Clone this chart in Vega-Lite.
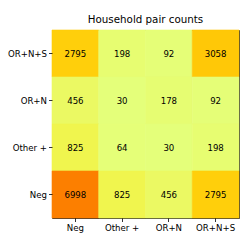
{
  "$schema": "https://vega.github.io/schema/vega-lite/v6.json",
  "autosize": "none",
  "width": 187,
  "height": 188,
  "padding": {"left": 52, "top": 30, "right": 10, "bottom": 31},
  "background": "white",
  "config": {
    "view": {"stroke": "#333333", "strokeWidth": 1},
    "font": "DejaVu Sans",
    "axis": {
      "domain": false,
      "grid": false,
      "ticks": true,
      "tickColor": "#000000",
      "tickSize": 3.5,
      "tickWidth": 0.8,
      "labelFont": "DejaVu Sans",
      "labelFontSize": 8.6,
      "labelColor": "#000000",
      "labelPadding": 2,
      "title": null
    }
  },
  "title": {
    "text": "Household pair counts",
    "font": "DejaVu Sans",
    "fontSize": 10.3,
    "fontWeight": "normal",
    "color": "#000000",
    "offset": 4
  },
  "data": {
    "values": [
      {"row": "OR+N+S", "col": "Neg", "count": 2795},
      {"row": "OR+N+S", "col": "Other +", "count": 198},
      {"row": "OR+N+S", "col": "OR+N", "count": 92},
      {"row": "OR+N+S", "col": "OR+N+S", "count": 3058},
      {"row": "OR+N", "col": "Neg", "count": 456},
      {"row": "OR+N", "col": "Other +", "count": 30},
      {"row": "OR+N", "col": "OR+N", "count": 178},
      {"row": "OR+N", "col": "OR+N+S", "count": 92},
      {"row": "Other +", "col": "Neg", "count": 825},
      {"row": "Other +", "col": "Other +", "count": 64},
      {"row": "Other +", "col": "OR+N", "count": 30},
      {"row": "Other +", "col": "OR+N+S", "count": 198},
      {"row": "Neg", "col": "Neg", "count": 6998},
      {"row": "Neg", "col": "Other +", "count": 825},
      {"row": "Neg", "col": "OR+N", "count": 456},
      {"row": "Neg", "col": "OR+N+S", "count": 2795}
    ]
  },
  "encoding": {
    "x": {"field": "col", "type": "nominal", "sort": ["Neg", "Other +", "OR+N", "OR+N+S"], "axis": {"labelAngle": 0, "orient": "bottom"}, "scale": {"paddingInner": 0, "paddingOuter": 0}},
    "y": {"field": "row", "type": "nominal", "sort": ["OR+N+S", "OR+N", "Other +", "Neg"], "scale": {"paddingInner": 0, "paddingOuter": 0}}
  },
  "layer": [
    {
      "mark": {"type": "rect", "strokeWidth": 0.6},
      "encoding": {
        "color": {
          "field": "count",
          "type": "quantitative",
          "scale": {"domain": [30, 6998], "range": ["#e4ff7a", "#ffe81a", "#ffbd00", "#fca000", "#fc7f00"], "interpolate": "rgb"},
          "legend": null
        },
        "stroke": {
          "field": "count",
          "type": "quantitative",
          "scale": {"domain": [30, 6998], "range": ["#e4ff7a", "#ffe81a", "#ffbd00", "#fca000", "#fc7f00"], "interpolate": "rgb"},
          "legend": null
        }
      }
    },
    {
      "mark": {"type": "text", "font": "DejaVu Sans", "fontSize": 8.6, "color": "#000000", "baseline": "middle"},
      "encoding": {"text": {"field": "count", "type": "quantitative"}}
    }
  ]
}
